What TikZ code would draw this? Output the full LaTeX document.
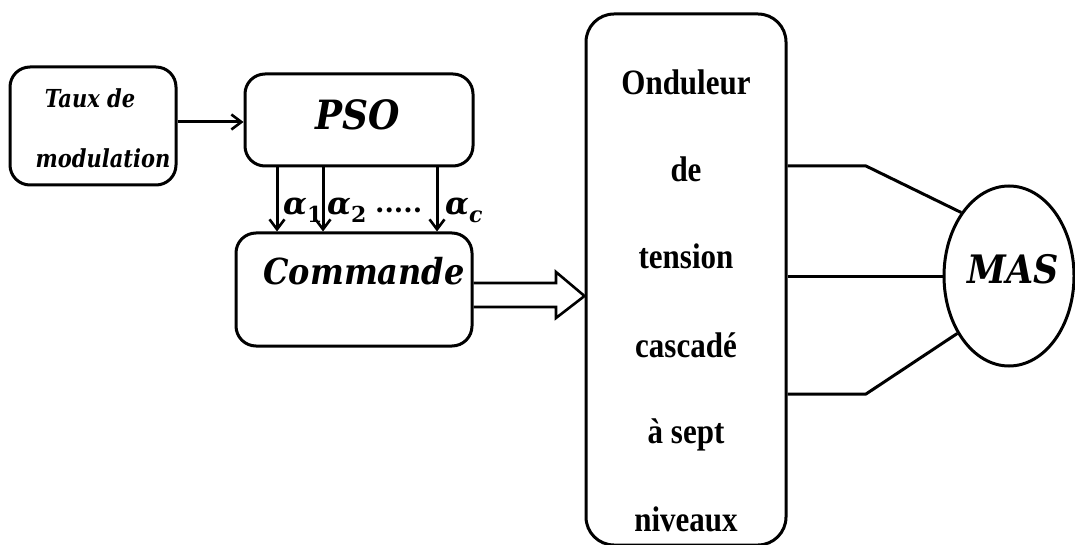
\documentclass[tikz,border=0pt]{standalone}
\usepackage{fontspec}
\setmainfont{Liberation Serif}
\newfontfamily\eqfont{DejaVu Serif}
\usetikzlibrary{arrows.meta,shapes.geometric,calc}

% slightly taller lettering for the equation-style labels
\newcommand{\tallbox}[2][1.12]{\scalebox{1}[#1]{#2}}
% alpha with an upright, lowered index
\newcommand{\angsub}[1]{α\raisebox{-8pt}{\fontsize{22}{22}\selectfont\upshape #1}}

\tikzset{
  box/.style={draw, line width=3pt, rounded corners=20pt, inner sep=0pt},
  eqlbl/.style={inner sep=0pt},
  wire/.style={line width=3pt},
  arr/.style={wire, -{Straight Barb[length=10pt,width=15pt,line width=2.6pt]}},
  invtxt/.style={font=\fontsize{31}{31}\selectfont\bfseries, inner sep=0pt, anchor=base},
}

\begin{document}
\begin{tikzpicture}[x=1pt,y=-1pt]
\useasboundingbox (0,0) rectangle (1075,545);

% blocks
\node[box, minimum width=166pt, minimum height=118pt] (taux) at (93,126) {};
\node[box, minimum width=228pt, minimum height=92pt] (pso) at (359,120) {};
\node[box, minimum width=236pt, minimum height=113pt] (cmd) at (354,289.5) {};
\node[box, rounded corners=28pt, minimum width=200pt, minimum height=531pt] (inv) at (686,279.5) {};
\node[draw, line width=3pt, ellipse, inner sep=0pt, minimum width=130pt, minimum height=180pt] (mas) at (1009,276) {};

% block texts
\node[eqlbl, font=\eqfont\bfseries\itshape\fontsize{21}{21}\selectfont] (tauxA) at (90,98) {\tallbox[1.18]{Taux de}};
\node[eqlbl, font=\eqfont\bfseries\itshape\fontsize{21}{21}\selectfont] (tauxB) at (103,158) {\tallbox[1.18]{modulation}};
\node[eqlbl, font=\eqfont\bfseries\itshape\fontsize{36}{36}\selectfont] (psot) at (358,115) {\tallbox{PSO}};
\node[eqlbl, font=\eqfont\bfseries\itshape\fontsize{32}{32}\selectfont] (cmdt) at (364,271) {\tallbox{Commande}};
\node[eqlbl, font=\eqfont\bfseries\itshape\fontsize{35}{35}\selectfont] (mast) at (1013,269) {\tallbox{MAS}};

\node[invtxt] (l1) at (686,95)  {\scalebox{1}[1.15]{Onduleur}};
\node[invtxt] (l2) at (686,182) {\scalebox{1}[1.15]{de}};
\node[invtxt] (l3) at (686,269) {\scalebox{1}[1.15]{tension}};
\node[invtxt] (l4) at (686,357) {\scalebox{1}[1.15]{cascadé}};
\node[invtxt] (l5) at (686,443) {\scalebox{1}[1.15]{à sept}};
\node[invtxt] (l6) at (686,531) {\scalebox{1}[1.15]{niveaux}};

% helper levels
\coordinate (y122) at (0,122);
\coordinate (x277) at (277,0);
\coordinate (x323) at (323,0);
\coordinate (x437) at (437,0);

% input to PSO
\draw[arr] (taux.east |- y122) -- (pso.west |- y122);

% switching angles
\draw[arr] (pso.south -| x277) -- (cmd.north -| x277);
\draw[arr] (pso.south -| x323) -- (cmd.north -| x323);
\draw[arr] (pso.south -| x437) -- (cmd.north -| x437);

\tikzset{anglbl/.style={eqlbl, font=\eqfont\bfseries\itshape\fontsize{31}{31}\selectfont, anchor=base west}}
\node[anglbl] (a1) at (283,215) {\angsub{1}};
\node[anglbl] (a2) at (327,215) {\angsub{2}};
\node[eqlbl, font=\eqfont\bfseries\fontsize{27}{27}\selectfont, anchor=base west] (dots) at (375,213) {.....};
\node[anglbl] (ac) at (445,215) {α\raisebox{-7pt}{\fontsize{22}{22}\selectfont c}};

% hollow arrow from the control block to the inverter
\coordinate (y283) at (0,283);
\coordinate (y307) at (0,307);
\coordinate (y296) at (0,296);
\coordinate (hx) at (556,0);
\coordinate (hT) at (inv.west |- y296);
\draw[wire, line width=2.6pt, line join=miter]
  (cmd.east |- y283) -- (hx |- y283) -- ++(0,-11) -- (hT)
  -- ($(hx |- y307)+(0,11)$) -- (hx |- y307) -- (cmd.east |- y307);

% three-phase wiring to the machine
\coordinate (y166) at (0,166);
\coordinate (y394) at (0,394);
\coordinate (bx) at (866,0);
\draw[wire, line join=round] (inv.east |- y166) -- (bx |- y166) -- (mas.127);
\draw[wire] (inv.east |- mas.west) -- (mas.west);
\draw[wire, line join=round] (inv.east |- y394) -- (bx |- y394) -- (mas.228);
\end{tikzpicture}
\end{document}
